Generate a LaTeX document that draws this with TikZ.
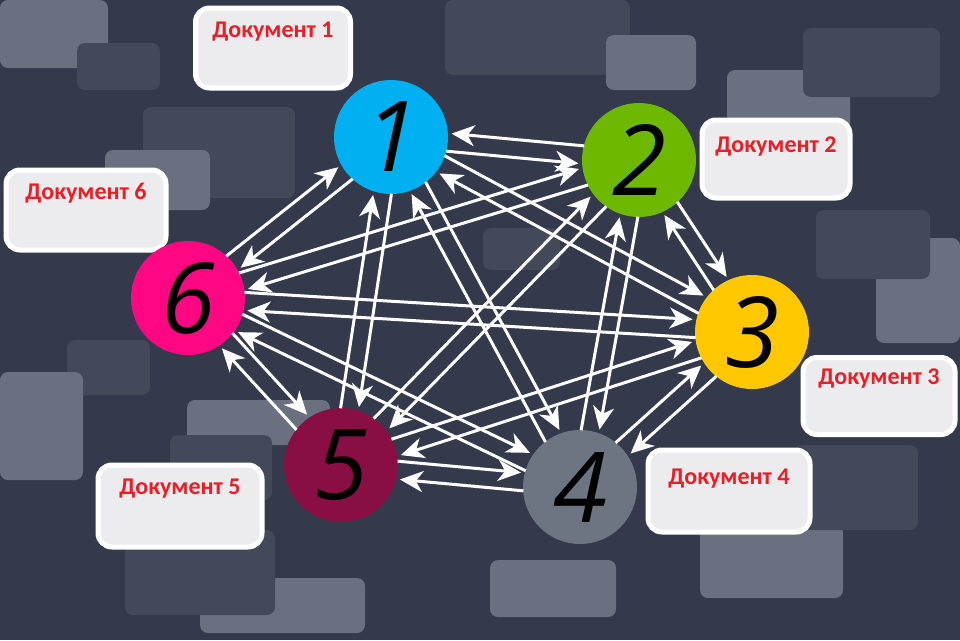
\documentclass[tikz,border=0pt]{standalone}
\usepackage{fontspec}
\setmainfont{Carlito}
\newfontfamily\digitfont{Open Sans}
\usetikzlibrary{positioning,calc,arrows.meta}

\definecolor{bgcol}{HTML}{343A4C}
\definecolor{rectdark}{HTML}{434959}
\definecolor{rectlight}{HTML}{6B7081}
\definecolor{docgray}{HTML}{ECECEE}
\definecolor{docred}{HTML}{EE1C24}
\definecolor{c1}{HTML}{00B0F0}
\definecolor{c2}{HTML}{6FB800}
\definecolor{c3}{HTML}{FFC800}
\definecolor{c4}{HTML}{6C7581}
\definecolor{c5}{HTML}{880E44}
\definecolor{c6}{HTML}{FF0783}

\tikzset{
  num/.style={circle, minimum size=114pt, inner sep=0pt,
    font=\digitfont\itshape\fontsize{98}{98}\selectfont},
  docbox/.style={draw=white, line width=5pt, fill=docgray, rounded corners=14pt},
  doctext/.style={text=docred, inner sep=0pt, font=\bfseries\fontsize{24}{24}\selectfont},
  link/.style={white, line width=3pt, -{Stealth[length=23pt, width=21pt, inset=7pt]},
    shorten <=56pt, shorten >=60pt},
}

\begin{document}
\begin{tikzpicture}[x=1pt, y=-1pt]
  \fill[bgcol] (0,0) rectangle (960,640);
  \useasboundingbox (0,0) rectangle (960,640);
  \begin{scope}[rounded corners=8pt]
    \fill[rectlight] (0,0) rectangle (108,68);
    \fill[rectdark] (77,43) rectangle (160,90);
    \fill[rectdark] (143,107) rectangle (295,198);
    \fill[rectlight] (105,150) rectangle (210,210);
    \fill[rectdark] (445,0) rectangle (630,75);
    \fill[rectlight] (606,35) rectangle (696,90);
    \fill[rectlight] (727,70) rectangle (850,145);
    \fill[rectdark] (803,28) rectangle (940,97);
    \fill[rectdark] (483,228) rectangle (560,270);
    \fill[rectlight] (876,238) rectangle (960,343);
    \fill[rectdark] (816,210) rectangle (930,279);
    \fill[rectdark] (67,340) rectangle (150,395);
    \fill[rectlight] (0,372) rectangle (83,480);
    \fill[rectlight] (187,400) rectangle (330,445);
    \fill[rectdark] (170,435) rectangle (272,500);
    \fill[rectlight] (200,578) rectangle (365,633);
    \fill[rectdark] (125,530) rectangle (275,615);
    \fill[rectlight] (490,560) rectangle (616,617);
    \fill[rectlight] (700,525) rectangle (843,598);
    \fill[rectdark] (795,445) rectangle (918,530);
  \end{scope}

  % documents
  \node[docbox, minimum width=155pt, minimum height=80pt] (doc1) at (273,48) {};
  \node[docbox, minimum width=148pt, minimum height=78pt] (doc2) at (776,159) {};
  \node[docbox, minimum width=152pt, minimum height=77pt] (doc3) at (879,396) {};
  \node[docbox, minimum width=162pt, minimum height=82pt] (doc4) at (729,491) {};
  \node[docbox, minimum width=164pt, minimum height=82pt] (doc5) at (180,506) {};
  \node[docbox, minimum width=160pt, minimum height=80pt] (doc6) at (86,210) {};
  \node[doctext, below=16pt of doc1.north] {Документ 1};
  \node[doctext, below=19pt of doc2.north] {Документ 2};
  \node[doctext, below=14pt of doc3.north] {Документ 3};
  \node[doctext, below=21pt of doc4.north] {Документ 4};
  \node[doctext, below=16pt of doc5.north] {Документ 5};
  \node[doctext, below=15pt of doc6.north] {Документ 6};

  \node[num, fill=c1] (n1) at (391,137) {1};
  \node[num, fill=c2] (n2) at (639,160) {2};
  \node[num, fill=c3] (n3) at (752,332) {3};
  \node[num, fill=c4] (n4) at (580,487) {4};
  \node[num, fill=c5] (n5) at (341,465) {5};
  \node[num, fill=c6] (n6) at (188,298) {6};

  \foreach \a/\b/\r in {1/2/270, 1/3/90, 1/4/90, 1/5/90, 1/6/90, 2/3/90, 2/4/90, 2/5/90,
      2/6/90, 3/4/90, 3/5/90, 3/6/90, 4/5/90, 4/6/90, 5/6/90} {
    \draw[link] ($(n\a)!9pt!\r:(n\b)$) -- ($(n\b)!9pt!-\r:(n\a)$);
    \draw[link] ($(n\b)!9pt!\r:(n\a)$) -- ($(n\a)!9pt!-\r:(n\b)$);
  }
\end{tikzpicture}
\end{document}
